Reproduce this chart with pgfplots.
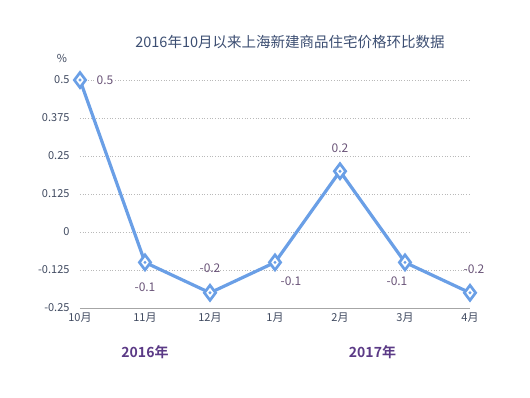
\documentclass[border=0pt]{standalone}
\usepackage{pgfplots}
\pgfplotsset{compat=1.18}
\usepackage{fontspec}
\setmainfont{Noto Sans CJK SC}
\newfontfamily\cjkbold{Noto Sans CJK SC}[BoldFont={* Bold}]
\definecolor{lineblue}{HTML}{6A9FE6}
\definecolor{titlecol}{HTML}{3C4E72}
\definecolor{tickcol}{HTML}{404A60}
\definecolor{labcol}{HTML}{6A5478}
\definecolor{yearcol}{HTML}{5B3A86}
\begin{document}
\begin{tikzpicture}[x=1pt,y=1pt]
\useasboundingbox (-80,-89) rectangle (450,308);
\begin{axis}[
  at={(0,0)}, anchor=south west,
  scale only axis, width=390pt, height=228pt,
  xmin=0, xmax=6, ymin=-0.25, ymax=0.5,
  clip=false,
  xtick={0,1,2,3,4,5,6},
  xticklabels={10月,11月,12月,1月,2月,3月,4月},
  ytick=\empty,
  /pgf/number format/assume math mode=true,
  ticklabel style={font=\fontsize{11}{13}\selectfont, text=tickcol},
  major tick length=0pt,
  axis y line=none,
  axis x line*=bottom,
  x axis line style={draw=gray!70, line width=0.8pt, -},
  xticklabel style={yshift=-1pt},
]
\pgfplotsinvokeforeach{-0.125,0,0.125,0.25,0.375,0.5}{
  \draw[dotted, gray!55, line width=0.7pt] (axis cs:0,#1) -- (axis cs:6,#1);
}
\pgfplotsinvokeforeach{-0.25,-0.125,0,0.125,0.25,0.375,0.5}{
  \node[anchor=east, font=\fontsize{11}{13}\selectfont, text=tickcol] at (axis cs:0,#1) [xshift=-7pt] {#1};
}
\addplot[lineblue, line width=3.2pt, mark=diamond*, mark size=7.5pt,
  mark options={fill=white, draw=lineblue, line width=2.7pt}]
  coordinates {(0,0.5) (1,-0.1) (2,-0.2) (3,-0.1) (4,0.2) (5,-0.1) (6,-0.2)};
\addplot[only marks, mark=*, mark size=1.3pt, lineblue]
  coordinates {(0,0.5) (1,-0.1) (2,-0.2) (3,-0.1) (4,0.2) (5,-0.1) (6,-0.2)};
\begin{scope}[every node/.style={font=\fontsize{12}{14}\selectfont, text=labcol}]
\node[fill=white, inner sep=2pt] at (axis cs:0,0.5) [xshift=25pt] {0.5};
\node at (axis cs:1,-0.1) [yshift=-25pt] {-0.1};
\node at (axis cs:2,-0.2) [yshift=25pt] {-0.2};
\node at (axis cs:3,-0.1) [xshift=16pt, yshift=-19pt] {-0.1};
\node at (axis cs:4,0.2) [yshift=23pt] {0.2};
\node at (axis cs:5,-0.1) [xshift=-8pt, yshift=-19pt] {-0.1};
\node at (axis cs:6,-0.2) [xshift=4pt, yshift=24pt] {-0.2};
\end{scope}
\node[font=\fontsize{11}{13}\selectfont, text=tickcol] at (rel axis cs:0,1) [xshift=-18pt, yshift=22pt] {\%};
\node[font=\fontsize{14.5}{17}\selectfont, text=titlecol] at (rel axis cs:0.5,1) [xshift=15pt, yshift=38pt] {2016年10月以来上海新建商品住宅价格环比数据};
\node[font=\cjkbold\bfseries\fontsize{14}{16}\selectfont, text=yearcol] at (axis cs:1,-0.25) [yshift=-44pt] {2016年};
\node[font=\cjkbold\bfseries\fontsize{14}{16}\selectfont, text=yearcol] at (axis cs:4.5,-0.25) [yshift=-44pt] {2017年};
\end{axis}
\end{tikzpicture}
\end{document}
